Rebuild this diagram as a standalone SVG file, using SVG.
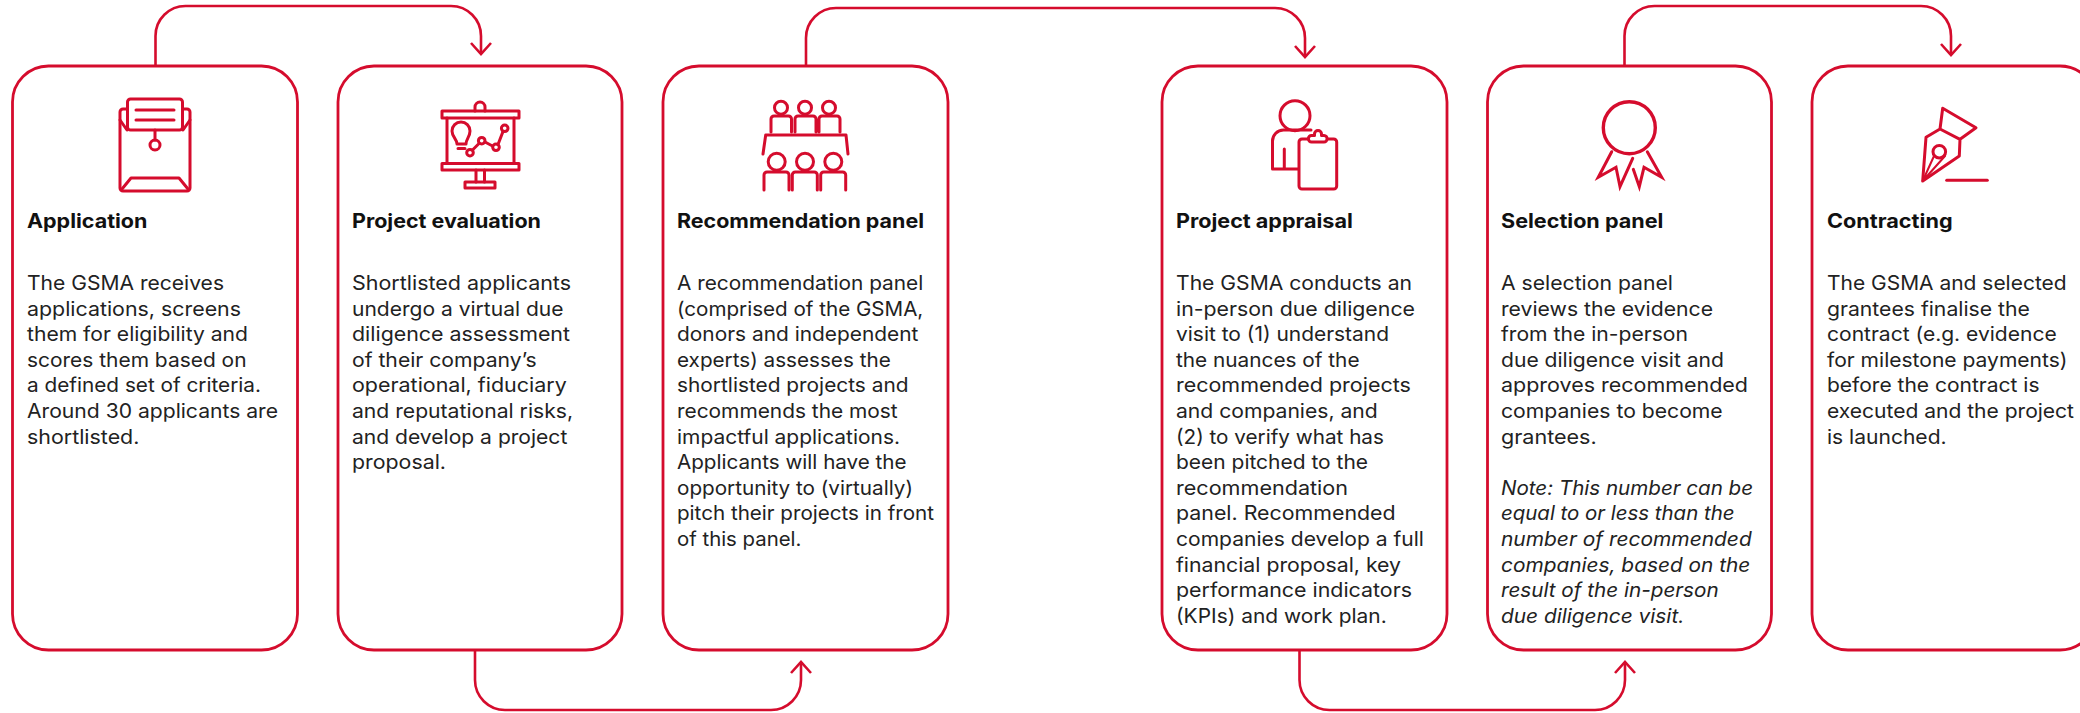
<svg xmlns="http://www.w3.org/2000/svg" width="2080" height="713" viewBox="0 0 2080 713">
<style>
.box{fill:#fff;stroke:#d50c2d;stroke-width:2.8}
.ic{fill:none;stroke:#d50c2d;stroke-width:3;stroke-linejoin:round;stroke-linecap:round}
.con{fill:none;stroke:#d50c2d;stroke-width:2.6;marker-end:url(#arr)}
.t{font-family:Inter,"Liberation Sans",sans-serif;font-size:20px;font-weight:700;fill:#111}
.b{font-family:Inter,"Liberation Sans",sans-serif;font-size:20px;font-weight:400;fill:#222}
.n{font-style:italic}
</style>
<defs>
<marker id="arr" markerUnits="userSpaceOnUse" markerWidth="30" markerHeight="30" refX="15" refY="15" orient="auto" overflow="visible">
<path d="M4,5 L15,15 L4,25" fill="none" stroke="#d50c2d" stroke-width="2.6"/>
</marker>
</defs>
<g id="connectors">
<path class="con" d="M155.5,66V36a30,30 0 0 1 30,-30H451a30,30 0 0 1 30,30V54"/>
<path class="con" d="M806,66V38a30,30 0 0 1 30,-30H1275a30,30 0 0 1 30,30V57"/>
<path class="con" d="M1624.500,66V36a30,30 0 0 1 30,-30H1921a30,30 0 0 1 30,30V55"/>
<path class="con" d="M475,650V680a30,30 0 0 0 30,30H771a30,30 0 0 0 30,-30V662"/>
<path class="con" d="M1299.500,650V680a30,30 0 0 0 30,30H1595a30,30 0 0 0 30,-30V662"/>
</g>
<g id="node-application">
<rect class="box" x="12.500" y="66" width="285" height="584" rx="36"/>
<g class="ic">
<path d="M127,109H123a3,3 0 0 0 -3,3V188a3,3 0 0 0 3,3H187a3,3 0 0 0 3,-3V112a3,3 0 0 0 -3,-3H183"/>
<path d="M120,120L127,130M190,120L183,130"/>
<rect x="127.500" y="99" width="55" height="31" rx="3"/>
<path d="M136,110H174M136,120H174M155,130V140"/>
<circle cx="155" cy="145" r="5"/>
<path d="M122,189L131,178H179L188,189"/>
</g>
<text class="t" x="27" y="228" textLength="120.400" lengthAdjust="spacingAndGlyphs">Application</text>
<g class="b">
<text x="27" y="290" textLength="197" lengthAdjust="spacingAndGlyphs">The GSMA receives</text>
<text x="27" y="315.600" textLength="214" lengthAdjust="spacingAndGlyphs">applications, screens</text>
<text x="27" y="341.200" textLength="221" lengthAdjust="spacingAndGlyphs">them for eligibility and</text>
<text x="27" y="366.800" textLength="219.500" lengthAdjust="spacingAndGlyphs">scores them based on</text>
<text x="27" y="392.400" textLength="234" lengthAdjust="spacingAndGlyphs">a defined set of criteria.</text>
<text x="27" y="418" textLength="251" lengthAdjust="spacingAndGlyphs">Around 30 applicants are</text>
<text x="27" y="443.600" textLength="112.400" lengthAdjust="spacingAndGlyphs">shortlisted.</text>
</g>
</g>
<g id="node-project-evaluation">
<rect class="box" x="338" y="66" width="284" height="584" rx="36"/>
<g class="ic">
<rect x="442" y="111" width="77" height="7"/>
<rect x="442" y="163.500" width="77" height="6.500"/>
<path d="M447,118V163.500M514,118V163.500M476,170V182M484.500,170V182"/>
<rect x="465" y="182" width="30" height="6"/>
<path d="M475,111V107a5,5 0 0 1 10,0V111"/>
<path d="M457,144C457,139 452,137 452,131A9,9 0 0 1 470,131C470,137 466,139 466,144ZM458,148.500H465"/>
<circle cx="470" cy="152.700" r="3.300"/><circle cx="481.700" cy="140.700" r="3.300"/><circle cx="496" cy="147.300" r="3.300"/><circle cx="504.700" cy="128.300" r="3.300"/>
<path d="M472.500,150L479,143.500M485,142L492.500,146M498,144.500L503,131.500"/>
</g>
<text class="t" x="352" y="228" textLength="189" lengthAdjust="spacingAndGlyphs">Project evaluation</text>
<g class="b">
<text x="352" y="290" textLength="219" lengthAdjust="spacingAndGlyphs">Shortlisted applicants</text>
<text x="352" y="315.600" textLength="211.500" lengthAdjust="spacingAndGlyphs">undergo a virtual due</text>
<text x="352" y="341.200" textLength="218" lengthAdjust="spacingAndGlyphs">diligence assessment</text>
<text x="352" y="366.800" textLength="184.700" lengthAdjust="spacingAndGlyphs">of their company’s</text>
<text x="352" y="392.400" textLength="214.700" lengthAdjust="spacingAndGlyphs">operational, fiduciary</text>
<text x="352" y="418" textLength="221" lengthAdjust="spacingAndGlyphs">and reputational risks,</text>
<text x="352" y="443.600" textLength="215.300" lengthAdjust="spacingAndGlyphs">and develop a project</text>
<text x="352" y="469.200" textLength="94" lengthAdjust="spacingAndGlyphs">proposal.</text>
</g>
</g>
<g id="node-recommendation-panel">
<rect class="box" x="663" y="66" width="285" height="584" rx="36"/>
<g class="ic">
<circle cx="781" cy="107.700" r="6.500"/><circle cx="805" cy="107.700" r="6.500"/><circle cx="829" cy="107.700" r="6.500"/>
<path d="M771,132V119a3,3 0 0 1 3,-3H788.500a3,3 0 0 1 3,3V132M795,132V119a3,3 0 0 1 3,-3H813a3,3 0 0 1 3,3V132M819,132V119a3,3 0 0 1 3,-3H837a3,3 0 0 1 3,3V132"/>
<path d="M763,154L765.700,135H846L848,154"/>
<circle cx="776.700" cy="161.700" r="8.500"/><circle cx="805" cy="161.700" r="8.500"/><circle cx="833.300" cy="161.700" r="8.500"/>
<path d="M764,190V175a3,3 0 0 1 3,-3H786a3,3 0 0 1 3,3V190M792.300,190V175a3,3 0 0 1 3,-3H814.300a3,3 0 0 1 3,3V190M820.700,190V175a3,3 0 0 1 3,-3H842.700a3,3 0 0 1 3,3V190"/>
</g>
<text class="t" x="677" y="228" textLength="247" lengthAdjust="spacingAndGlyphs">Recommendation panel</text>
<g class="b">
<text x="677" y="290" textLength="246.300" lengthAdjust="spacingAndGlyphs">A recommendation panel</text>
<text x="677" y="315.600" textLength="246.300" lengthAdjust="spacingAndGlyphs">(comprised of the GSMA,</text>
<text x="677" y="341.200" textLength="241.400" lengthAdjust="spacingAndGlyphs">donors and independent</text>
<text x="677" y="366.800" textLength="213.700" lengthAdjust="spacingAndGlyphs">experts) assesses the</text>
<text x="677" y="392.400" textLength="231.500" lengthAdjust="spacingAndGlyphs">shortlisted projects and</text>
<text x="677" y="418" textLength="220.700" lengthAdjust="spacingAndGlyphs">recommends the most</text>
<text x="677" y="443.600" textLength="223" lengthAdjust="spacingAndGlyphs">impactful applications.</text>
<text x="677" y="469.200" textLength="229.600" lengthAdjust="spacingAndGlyphs">Applicants will have the</text>
<text x="677" y="494.800" textLength="236" lengthAdjust="spacingAndGlyphs">opportunity to (virtually)</text>
<text x="677" y="520.400" textLength="257" lengthAdjust="spacingAndGlyphs">pitch their projects in front</text>
<text x="677" y="546" textLength="124.400" lengthAdjust="spacingAndGlyphs">of this panel.</text>
</g>
</g>
<g id="node-project-appraisal">
<rect class="box" x="1162" y="66" width="285" height="584" rx="36"/>
<g class="ic">
<circle cx="1295" cy="115.700" r="15"/>
<path d="M1298,169H1272.500V141a11,11 0 0 1 11,-11H1311M1284.300,149V169"/>
<rect x="1299" y="139" width="37.700" height="50" rx="3"/>
<path d="M1308.500,139a3,3 0 0 0 3,3H1324a3,3 0 0 0 3,-3A3,3 0 0 0 1324,135.500H1321.500V134a3.500,3.500 0 0 0 -7,0V135.500H1312A3,3 0 0 0 1308.500,139Z" fill="#fff"/>
</g>
<text class="t" x="1176" y="228" textLength="176.800" lengthAdjust="spacingAndGlyphs">Project appraisal</text>
<g class="b">
<text x="1176" y="290" textLength="236" lengthAdjust="spacingAndGlyphs">The GSMA conducts an</text>
<text x="1176" y="315.600" textLength="239" lengthAdjust="spacingAndGlyphs">in-person due diligence</text>
<text x="1176" y="341.200" textLength="213" lengthAdjust="spacingAndGlyphs">visit to (1) understand</text>
<text x="1176" y="366.800" textLength="183.500" lengthAdjust="spacingAndGlyphs">the nuances of the</text>
<text x="1176" y="392.400" textLength="234.800" lengthAdjust="spacingAndGlyphs">recommended projects</text>
<text x="1176" y="418" textLength="201.700" lengthAdjust="spacingAndGlyphs">and companies, and</text>
<text x="1176" y="443.600" textLength="207.900" lengthAdjust="spacingAndGlyphs">(2) to verify what has</text>
<text x="1176" y="469.200" textLength="192" lengthAdjust="spacingAndGlyphs">been pitched to the</text>
<text x="1176" y="494.800" textLength="172" lengthAdjust="spacingAndGlyphs">recommendation</text>
<text x="1176" y="520.400" textLength="219.600" lengthAdjust="spacingAndGlyphs">panel. Recommended</text>
<text x="1176" y="546" textLength="247.900" lengthAdjust="spacingAndGlyphs">companies develop a full</text>
<text x="1176" y="571.600" textLength="225" lengthAdjust="spacingAndGlyphs">financial proposal, key</text>
<text x="1176" y="597.200" textLength="236" lengthAdjust="spacingAndGlyphs">performance indicators</text>
<text x="1176" y="622.800" textLength="210.700" lengthAdjust="spacingAndGlyphs">(KPIs) and work plan.</text>
</g>
</g>
<g id="node-selection-panel">
<rect class="box" x="1487.500" y="66" width="284" height="584" rx="36"/>
<g class="ic">
<circle cx="1629.300" cy="127.700" r="26" stroke-width="3.400"/>
<path d="M1611.700,151.700L1598.300,177.300L1616,167.300L1620,186.700L1632.700,158.300M1647.300,151.700L1661.700,177.300L1644,167.300L1639.300,186.700L1633.300,169.300" stroke-linejoin="miter"/>
</g>
<text class="t" x="1501" y="228" textLength="162.400" lengthAdjust="spacingAndGlyphs">Selection panel</text>
<g class="b">
<text x="1501" y="290" textLength="172" lengthAdjust="spacingAndGlyphs">A selection panel</text>
<text x="1501" y="315.600" textLength="212" lengthAdjust="spacingAndGlyphs">reviews the evidence</text>
<text x="1501" y="341.200" textLength="187" lengthAdjust="spacingAndGlyphs">from the in-person</text>
<text x="1501" y="366.800" textLength="223" lengthAdjust="spacingAndGlyphs">due diligence visit and</text>
<text x="1501" y="392.400" textLength="247" lengthAdjust="spacingAndGlyphs">approves recommended</text>
<text x="1501" y="418" textLength="221.700" lengthAdjust="spacingAndGlyphs">companies to become</text>
<text x="1501" y="443.600" textLength="95.700" lengthAdjust="spacingAndGlyphs">grantees.</text>
<text class="n" x="1501" y="494.800" textLength="252" lengthAdjust="spacingAndGlyphs">Note: This number can be</text>
<text class="n" x="1501" y="520.400" textLength="233.500" lengthAdjust="spacingAndGlyphs">equal to or less than the</text>
<text class="n" x="1501" y="546" textLength="250.700" lengthAdjust="spacingAndGlyphs">number of recommended</text>
<text class="n" x="1501" y="571.600" textLength="249.300" lengthAdjust="spacingAndGlyphs">companies, based on the</text>
<text class="n" x="1501" y="597.200" textLength="217.600" lengthAdjust="spacingAndGlyphs">result of the in-person</text>
<text class="n" x="1501" y="622.800" textLength="183.200" lengthAdjust="spacingAndGlyphs">due diligence visit.</text>
</g>
</g>
<g id="node-contracting">
<rect class="box" x="1812" y="66" width="284" height="584" rx="36"/>
<g class="ic">
<path d="M1942.700,108.300L1976,127.700L1960,139.300L1940,129ZM1940,129L1926,137.300L1922.700,181L1959.300,156L1960,139.300"/>
<circle cx="1939.300" cy="151.700" r="6.300"/>
<path d="M1922.700,181L1934,156M1922.700,181L1945,156" stroke-width="2"/>
<path d="M1946.700,180.300H1987.300" stroke-width="3"/>
</g>
<text class="t" x="1827" y="228" textLength="125.600" lengthAdjust="spacingAndGlyphs">Contracting</text>
<g class="b">
<text x="1827" y="290" textLength="239.600" lengthAdjust="spacingAndGlyphs">The GSMA and selected</text>
<text x="1827" y="315.600" textLength="202.800" lengthAdjust="spacingAndGlyphs">grantees finalise the</text>
<text x="1827" y="341.200" textLength="229.700" lengthAdjust="spacingAndGlyphs">contract (e.g. evidence</text>
<text x="1827" y="366.800" textLength="240.500" lengthAdjust="spacingAndGlyphs">for milestone payments)</text>
<text x="1827" y="392.400" textLength="212.500" lengthAdjust="spacingAndGlyphs">before the contract is</text>
<text x="1827" y="418" textLength="247" lengthAdjust="spacingAndGlyphs">executed and the project</text>
<text x="1827" y="443.600" textLength="119.600" lengthAdjust="spacingAndGlyphs">is launched.</text>
</g>
</g>
</svg>
